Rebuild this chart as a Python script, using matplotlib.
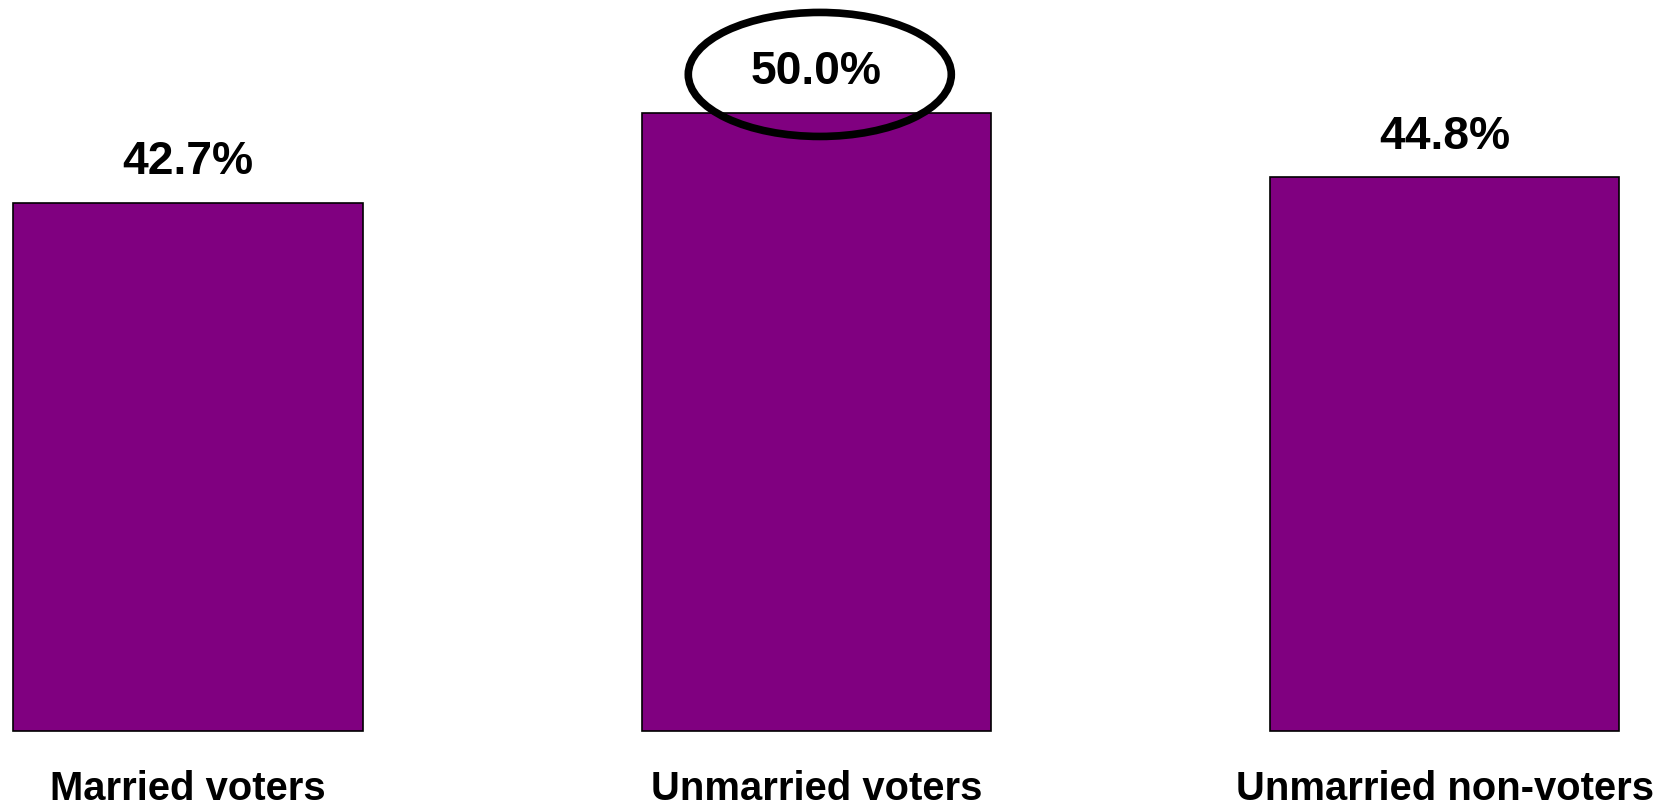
import matplotlib
matplotlib.use("Agg")
import matplotlib.pyplot as plt
from matplotlib.patches import Ellipse

plt.rcParams['font.family'] = ['Liberation Sans', 'DejaVu Sans']

categories = ["Married voters", "Unmarried voters", "Unmarried non-voters"]
values = [42.7, 50.0, 44.8]
value_labels = ["42.7%", "50.0%", "44.8%"]
highlight_index = 1

fig = plt.figure(figsize=(16.67, 8.09), dpi=100)
ax = fig.add_axes([0, 0, 1, 1])
x = list(range(len(categories)))
ax.bar(x, values, width=0.556, color="#800080", edgecolor="black", linewidth=1.2, zorder=2)

for xi, v, lab in zip(x, values, value_labels):
    ax.text(xi, v + 2.3, lab, ha="center", va="baseline", fontsize=33.3,
            fontweight="bold", color="black", zorder=4)

for xi, c in zip(x, categories):
    ax.text(xi, -5.55, c, ha="center", va="baseline", fontsize=28.8,
            fontweight="bold", color="black")

hx = x[highlight_index]
hv = values[highlight_index]
ell = Ellipse((hx + 0.0056, hv + 3.09), width=0.4186, height=10.03,
              fill=False, edgecolor="black", linewidth=5.5, zorder=5)
ax.add_patch(ell)

ax.set_xlim(-0.2992, 2.354)
ax.set_ylim(-6.31, 59.11)
ax.axis("off")

fig.savefig("out.png", dpi=100)
